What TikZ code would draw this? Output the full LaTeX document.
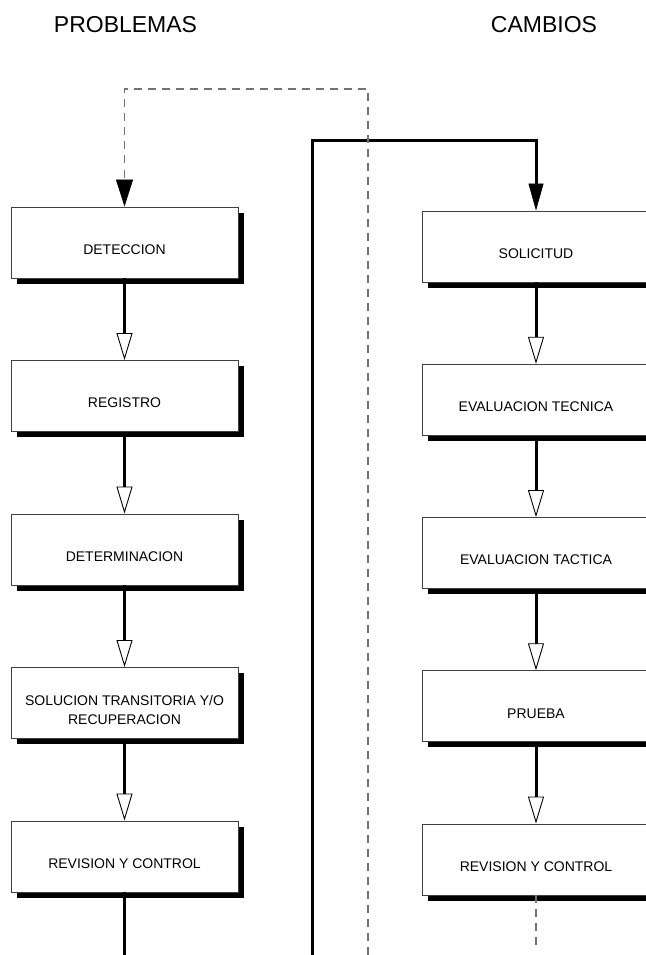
\documentclass[tikz,border=0pt]{standalone}
\usepackage{fontspec}
\setmainfont{Liberation Sans}
\usetikzlibrary{arrows.meta,shadows}

\begin{document}
\begin{tikzpicture}[x=1pt,y=-1pt,every node/.style={font=\fontsize{14}{19}\selectfont},
  procbox/.style={draw=black!75,line width=0.9pt,fill=white,minimum width=227pt,minimum height=71pt,inner sep=0pt,
    general shadow={fill=black,shadow xshift=5.5pt,shadow yshift=-5.5pt}},
  boxtext/.style={align=center,inner sep=0pt},
  title/.style={font=\fontsize{23}{27}\selectfont,inner sep=0pt},
  flow/.style={line width=3pt,-{Triangle[open,length=27pt,width=16pt,line width=0.9pt,fill=white]}},
  feed/.style={line width=3pt,-{Triangle[length=27pt,width=15pt,line width=0.6pt]}},
  loopback/.style={draw=black!55,line width=1.3pt,dash pattern=on 8pt off 6pt,
    -{Triangle[length=27pt,width=17pt,line width=0.6pt,color=black]}}]
\useasboundingbox (0,0) rectangle (645,955);
\node[title] (probl) at (125.5,24.5) {PROBLEMAS};
\node[title] (camb) at (544,24.5) {CAMBIOS};

\node[procbox] (det) at (124.5,242.5) {};
\node[boxtext] (detT) at ([yshift=-7pt]det.center) {DETECCION};
\node[procbox] (reg) at (124.5,396) {};
\node[boxtext] (regT) at ([yshift=-7pt]reg.center) {REGISTRO};
\node[procbox] (dtm) at (124.5,549.5) {};
\node[boxtext] (dtmT) at ([yshift=-7pt]dtm.center) {DETERMINACION};
\node[procbox] (stra) at (124.5,703) {};
\node[boxtext] (straT) at ([yshift=-7pt]stra.center) {SOLUCION TRANSITORIA Y/O\\RECUPERACION};
\node[procbox] (revp) at (124.5,856.5) {};
\node[boxtext] (revpT) at ([yshift=-7pt]revp.center) {REVISION Y CONTROL};

\node[procbox] (soli) at (536,246.5) {};
\node[boxtext] (soliT) at ([yshift=-7pt]soli.center) {SOLICITUD};
\node[procbox] (evtec) at (536,399.75) {};
\node[boxtext] (evtecT) at ([yshift=-7pt]evtec.center) {EVALUACION TECNICA};
\node[procbox] (evtac) at (536,553) {};
\node[boxtext] (evtacT) at ([yshift=-7pt]evtac.center) {EVALUACION TACTICA};
\node[procbox] (prue) at (536,706.25) {};
\node[boxtext] (prueT) at ([yshift=-7pt]prue.center) {PRUEBA};
\node[procbox] (revc) at (536,859.5) {};
\node[boxtext] (revcT) at ([yshift=-7pt]revc.center) {REVISION Y CONTROL};

\coordinate (pend) at (124.5,955);
\coordinate (cend) at (536,947);
\coordinate (feedfoot) at (312,955);
\coordinate (feedtop) at (312,140);
\coordinate (loopfoot) at (368,955);
\coordinate (looptop) at (368,89);

\draw[flow] (det) -- (reg);
\draw[flow] (reg) -- (dtm);
\draw[flow] (dtm) -- (stra);
\draw[flow] (stra) -- (revp);
\draw[line width=3pt] (revp.south) -- (pend);

\draw[flow] (soli) -- (evtec);
\draw[flow] (evtec) -- (evtac);
\draw[flow] (evtac) -- (prue);
\draw[flow] (prue) -- (revc);
\draw[draw=black!55,line width=1.3pt,dash pattern=on 8pt off 6pt] (revc.south) -- (cend);

\draw[feed] (feedfoot) -- (feedtop) -| (soli.north);
\draw[loopback] (loopfoot) -- (looptop) -| (det.north);
\end{tikzpicture}
\end{document}
